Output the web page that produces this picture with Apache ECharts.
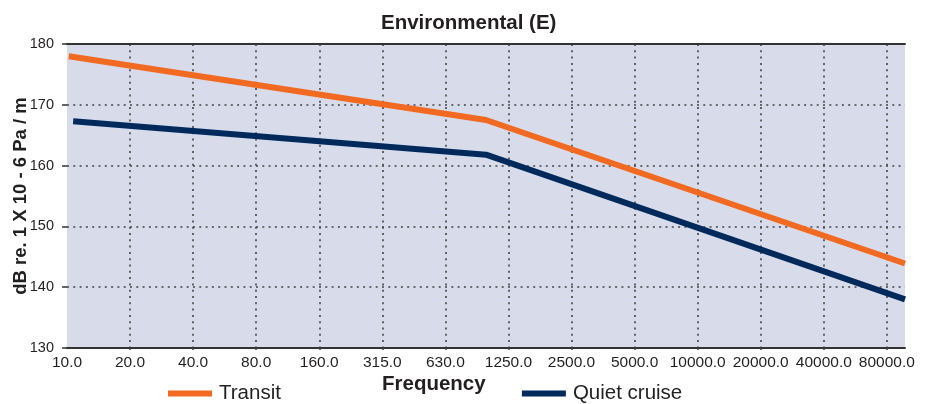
<!DOCTYPE html>
<html>
<head>
<meta charset="utf-8">
<script src="https://cdn.jsdelivr.net/npm/echarts@6/dist/echarts.min.js"></script>
<style>
html,body{margin:0;padding:0;background:#fff;}
#chart{width:930px;height:404px;}
</style>
</head>
<body>
<div id="chart"></div>
<script>
// Tick labels (nominal octave frequencies, Hz)
var tickLabels = ['10.0','20.0','40.0','80.0','160.0','315.0','630.0','1250.0','2500.0','5000.0','10000.0','20000.0','40000.0','80000.0'];
// Series: frequency (Hz) and level (dB)
var transitFreq = [10.2, 1000, 100000];
var transitDb   = [178.0, 167.5, 143.9];
var quietFreq   = [10.7, 1000, 100000];
var quietDb     = [167.3, 161.8, 138.0];
var seriesNames = ['Transit', 'Quiet cruise'];
var xStartFreq = 10, xEndFreq = 100000;

// octave position relative to 10 Hz
function oct(f){ return Math.log2(f / xStartFreq); }
function pairs(fs, vs){ return fs.map(function(f,i){ return [oct(f), vs[i]]; }); }

var xMax = oct(xEndFreq);
var labelIdx = tickLabels.map(function(_, i){ return i; });
var gridIdx = labelIdx.slice(1);

var FONT = '"Liberation Sans", Arial, Helvetica, sans-serif';
var TXT = '#231f20';
var dotted = { color: '#444', width: 1.6, type: [2, 4.3] };

var chart = echarts.init(document.getElementById('chart'), null, {renderer: 'canvas'});
chart.setOption({
  animation: false,
  backgroundColor: '#ffffff',
  textStyle: { fontFamily: FONT },
  title: [
    { text: 'Environmental (E)', left: 381, top: 13, padding: 0,
      textStyle: { fontFamily: FONT, fontSize: 20.5, fontWeight: 'bold', color: TXT } },
    { text: 'Frequency', left: 382, top: 374, padding: 0,
      textStyle: { fontFamily: FONT, fontSize: 20.5, fontWeight: 'bold', color: TXT } }
  ],
  legend: {
    data: seriesNames,
    left: 168, top: 383, padding: 0,
    icon: 'rect', itemWidth: 44, itemHeight: 6, itemGap: 241,
    textStyle: { fontFamily: FONT, fontSize: 20.5, color: TXT, padding: [0, 0, 0, 2] }
  },
  grid: {
    left: 67, right: 25, top: 44, bottom: 56,
    outerBoundsMode: 'none', containLabel: false,
    show: true, backgroundColor: '#d8dcea', borderWidth: 0
  },
  xAxis: [{
    type: 'value', min: 0, max: xMax, interval: 1,
    axisLine: { show: true, lineStyle: { color: '#333', width: 2 } },
    axisTick: { show: true, length: 4, customValues: gridIdx, lineStyle: dotted },
    axisLabel: { customValues: labelIdx, margin: 7, fontFamily: FONT, fontSize: 15.5, color: TXT,
      formatter: function(v){ return tickLabels[Math.round(v)] || ''; } },
    splitLine: { show: true, lineStyle: dotted }
  }, {
    type: 'value', position: 'top', min: 0, max: xMax,
    axisLine: { show: true, onZero: false, lineStyle: { color: '#333', width: 2 } },
    axisTick: { show: false }, axisLabel: { show: false }, splitLine: { show: false }
  }],
  yAxis: {
    type: 'value', min: 130, max: 180, interval: 10,
    name: 'dB re. 1 X 10 - 6 Pa / m', nameLocation: 'middle', nameRotate: 90, nameGap: 37,
    nameMoveOverlap: false,
    nameTextStyle: { fontFamily: FONT, fontSize: 18.5, fontWeight: 'bold', color: TXT },
    axisLine: { show: false },
    axisTick: { show: true, length: 5, lineStyle: { color: '#333', width: 1.5 } },
    axisLabel: { margin: 13, fontFamily: FONT, fontSize: 14.5, color: TXT },
    splitLine: { show: true, lineStyle: dotted }
  },
  series: [
    { name: seriesNames[0], type: 'line', data: pairs(transitFreq, transitDb), showSymbol: false, symbol: 'none',
      color: '#f26a22', lineStyle: { width: 6, color: '#f26a22', cap: 'butt' }, z: 3 },
    { name: seriesNames[1], type: 'line', data: pairs(quietFreq, quietDb), showSymbol: false, symbol: 'none',
      color: '#002a5c', lineStyle: { width: 6, color: '#002a5c', cap: 'butt' }, z: 3 }
  ]
});
</script>
</body>
</html>
